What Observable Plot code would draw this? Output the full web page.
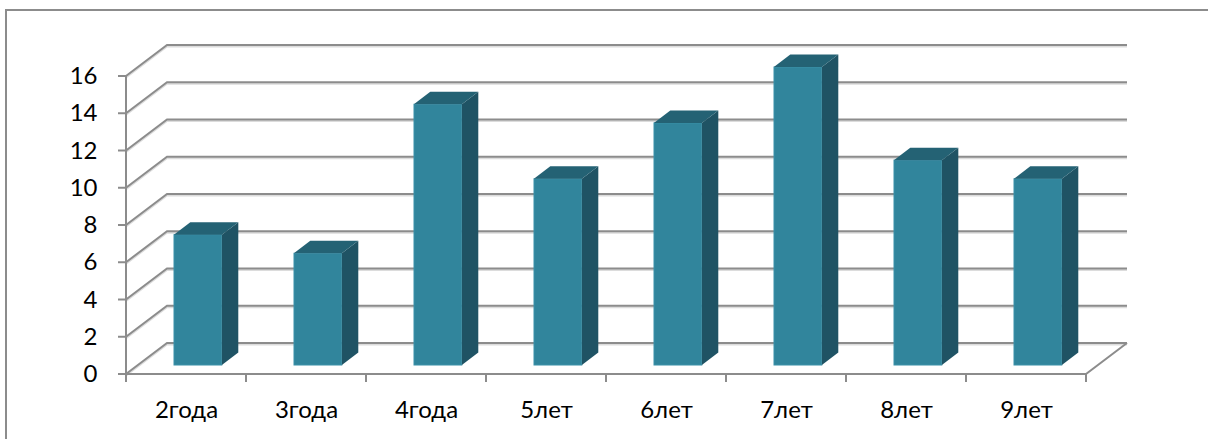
<!DOCTYPE html>
<html><head><meta charset="utf-8">
<script src="https://cdn.jsdelivr.net/npm/d3@7"></script>
<script src="https://cdn.jsdelivr.net/npm/@observablehq/plot@0.6"></script>
<style>
html,body{margin:0;padding:0;background:#fff;overflow:hidden;width:1208px;height:439px}
#frame{position:absolute;left:5px;top:9px;width:1300px;height:600px;border:2px solid #8c8c8c;box-sizing:border-box}
#chart{position:absolute;left:0;top:0}
</style></head><body>
<div id="frame"></div><div id="chart"></div>
<script>
const categories = ["2года","3года","4года","5лет","6лет","7лет","8лет","9лет"];
const values = [7, 6, 14, 10, 13, 16, 11, 10];
const yTicks = [0, 2, 4, 6, 8, 10, 12, 14, 16];

const data = categories.map((c, i) => ({category: c, value: values[i]}));

// 3D projection styling (pixels)
const DX = 41, DY = -31;          // full depth of the plot box
const F0 = 0.29, F1 = 0.69;       // depth range occupied by the bars
const BAR_W = 0.4;                // bar width as share of band
const GRID = "#8c8c8c";
const FRONT = "#31859c", TOP = "#246274", SIDE = "#1f5364";

function backScene(index, scales) {
  const {x, y} = scales;
  const bw = x.bandwidth();
  const xa = x(categories[0]), xb = x(categories[categories.length - 1]) + bw;
  const g = d3.create("svg:g").attr("fill", "none").attr("stroke", GRID).attr("stroke-width", 2);
  const yMax = y(d3.max(yTicks)), y0 = y(0);
  for (const t of yTicks) {
    const yt = y(t);
    g.append("path").attr("stroke", "#dcdcdc").attr("d", `M${xa},${yt + 1.5}L${xa + DX},${yt + DY + 1.5}L${xb + DX},${yt + DY + 1.5}`);
    g.append("path").attr("d", `M${xa},${yt}L${xa + DX},${yt + DY}L${xb + DX},${yt + DY}`);
    g.append("path").attr("d", `M${xa - 8},${yt}L${xa},${yt}`);
  }
  g.append("path").attr("d", `M${xa},${y0}L${xb},${y0}L${xb + DX},${y0 + DY}`);
  g.append("path").attr("d", `M${xa},${y0}L${xa},${yMax}`);
  for (let i = 0; i <= categories.length; i++) {
    const xt = i < categories.length ? x(categories[i]) : xb;
    g.append("path").attr("d", `M${xt},${y0}L${xt},${y0 + 8}`);
  }
  return g.node();
}

function barFaces(index, scales) {
  const {x, y} = scales;
  const bw = x.bandwidth();
  const ddx = (F1 - F0) * DX, ddy = (F1 - F0) * DY;
  const g = d3.create("svg:g");
  data.forEach(d => {
    const cx = x(d.category) + bw / 2;
    const fl = cx - BAR_W * bw / 2 + F0 * DX, fr = cx + BAR_W * bw / 2 + F0 * DX;
    const ft = y(d.value) + F0 * DY, fb = y(0) + F0 * DY;
    g.append("path").attr("fill", SIDE)
      .attr("d", `M${fr},${ft}L${fr + ddx},${ft + ddy}L${fr + ddx},${fb + ddy}L${fr},${fb}Z`);
    g.append("path").attr("fill", TOP)
      .attr("d", `M${fl},${ft}L${fr},${ft}L${fr + ddx},${ft + ddy}L${fl + ddx},${ft + ddy}Z`);
  });
  return g.node();
}

const inset = 120.375 * (1 - BAR_W) / 2;

const chart = Plot.plot({
  width: 1208, height: 439,
  marginLeft: 124, marginRight: 121, marginTop: 76, marginBottom: 65,
  style: {fontFamily: "Lato, sans-serif", fontSize: "24px", color: "#000", background: "transparent", overflow: "visible"},
  x: {type: "band", domain: categories, padding: 0, tickSize: 0, tickPadding: 26, label: null},
  y: {domain: [0, 16], ticks: yTicks, tickSize: 0, tickPadding: 27, label: null},
  marks: [
    backScene,
    Plot.barY(data, {x: "category", y: "value", fill: FRONT, stroke: "#3b92aa", strokeWidth: 1,
      insetLeft: inset, insetRight: inset, dx: F0 * DX, dy: F0 * DY}),
    barFaces
  ]
});
document.getElementById("chart").appendChild(chart);
</script>
</body></html>
